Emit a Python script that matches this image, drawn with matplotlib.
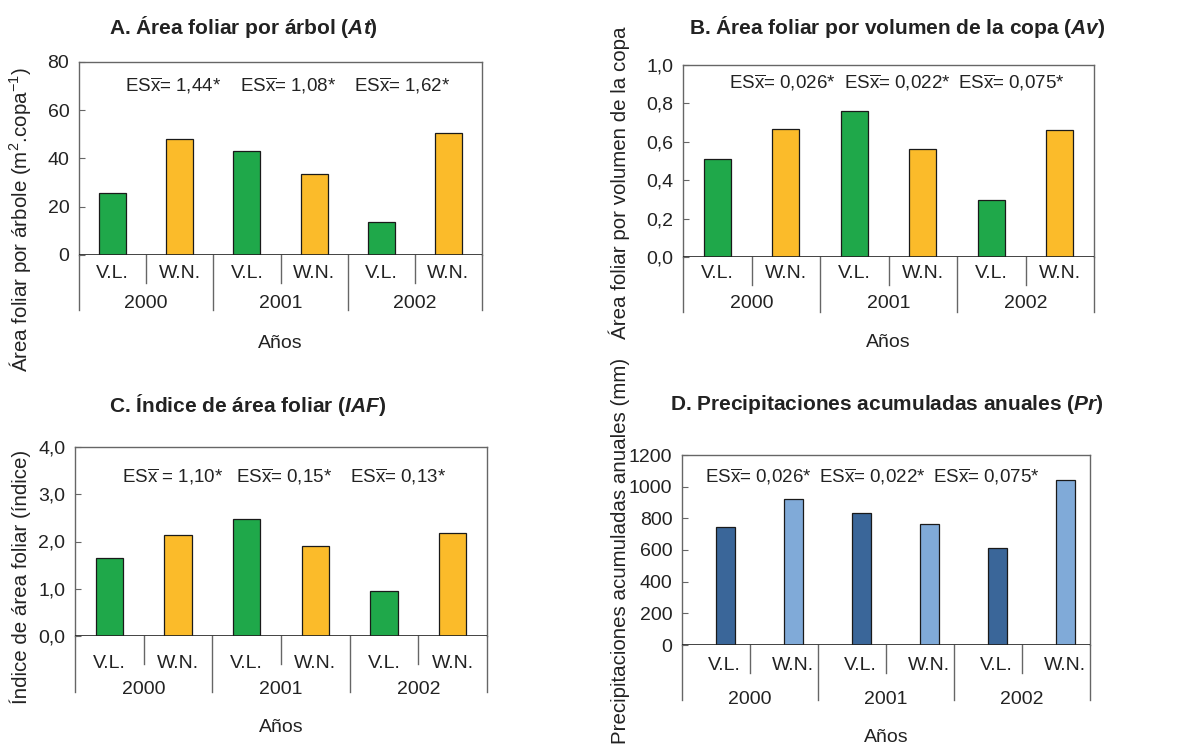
import matplotlib

matplotlib.use("Agg")
import matplotlib.pyplot as plt
from matplotlib.transforms import blended_transform_factory

plt.rcParams["font.family"] = ["Liberation Sans", "DejaVu Sans"]
plt.rcParams["mathtext.fontset"] = "custom"
plt.rcParams["mathtext.rm"] = "Liberation Sans"
plt.rcParams["mathtext.it"] = "Liberation Sans:italic"
plt.rcParams["mathtext.bf"] = "Liberation Sans:bold"
plt.rcParams["mathtext.bfit"] = "Liberation Sans:bold:italic"
plt.rcParams["mathtext.default"] = "regular"

W, H = 1181, 753

# data
years = ["2000", "2001", "2002"]
sites = ["V.L.", "W.N."]

at_vl = [25.6, 43.1, 13.5]
at_wn = [47.9, 33.5, 50.5]
av_vl = [0.508, 0.763, 0.299]
av_wn = [0.666, 0.565, 0.661]
iaf_vl = [1.65, 2.47, 0.95]
iaf_wn = [2.13, 1.91, 2.19]
pr_vl = [747, 836, 610]
pr_wn = [922, 764, 1044]

es_a = ["= 1,44*", "= 1,08*", "= 1,62*"]
es_b = ["= 0,026*", "= 0,022*", "= 0,075*"]
es_c = [" = 1,10*", "= 0,15*", "= 0,13*"]
es_d = ["= 0,026*", "= 0,022*", "= 0,075*"]

ticks_a = [0, 20, 40, 60, 80]
ticks_b = [0.0, 0.2, 0.4, 0.6, 0.8, 1.0]
ticks_c = [0.0, 1.0, 2.0, 3.0, 4.0]
ticks_d = [0, 200, 400, 600, 800, 1000, 1200]

GREEN, ORANGE = "#1fa84a", "#fbbb2a"
DBLUE, LBLUE = "#3a6699", "#80aad8"
GRAY = "#666666"
TXT = "#222222"

fig = plt.figure(figsize=(W / 100, H / 100), dpi=100)


def comma(v, nd):
    return f"{v:.{nd}f}".replace(".", ",")


def panel(box, vl, wn, ticks, nd, colors, es, es_x, es_y, title, title_xy,
          ylabel, ylabel_xy, below, width=0.4, shift=0.0, lab_shift=0.0,
          ylabel_va="center"):
    l, t, r, z = box
    ax = fig.add_axes([l / W, 1 - z / H, (r - l) / W, (z - t) / H])
    vals = [v for pair in zip(vl, wn) for v in pair]
    cols = [c for _ in vl for c in colors]
    xs = list(range(6))
    ax.bar([x + shift for x in xs], vals, width=width, color=cols,
           edgecolor="#1a1a1a", linewidth=0.9, zorder=3)
    ax.set_xlim(-0.5, 5.5)
    ax.set_ylim(ticks[0], ticks[-1])
    ax.set_yticks(ticks)
    ax.set_yticklabels([comma(v, nd) for v in ticks])
    ax.set_xticks([])
    ax.tick_params(axis="y", direction="in", length=4, color=GRAY,
                   labelsize=14, labelcolor=TXT, pad=7)
    for s in ["top", "left", "right"]:
        ax.spines[s].set_color(GRAY)
        ax.spines[s].set_linewidth(1.0)
    ax.spines["bottom"].set_visible(False)
    ax.axhline(0, color="#222222", lw=1.2, zorder=4)

    trans = blended_transform_factory(ax.transData, fig.transFigure)
    lab_y, short_bot, year_y, long_bot, anos_y = below
    for x in [0.5, 2.5, 4.5]:
        ax.plot([x, x], [1 - z / H, 1 - short_bot / H], color=GRAY, lw=1.0,
                transform=trans, clip_on=False)
    for x in [-0.5, 1.5, 3.5, 5.5]:
        ax.plot([x, x], [1 - z / H, 1 - long_bot / H], color=GRAY, lw=1.0,
                transform=trans, clip_on=False)
    for i, x in enumerate(xs):
        ax.text(x + lab_shift, 1 - lab_y / H, sites[i % 2], transform=trans,
                ha="center", va="center", fontsize=14, color=TXT)
    for j, yr in enumerate(years):
        ax.text(2 * j + 0.5, 1 - year_y / H, yr, transform=trans,
                ha="center", va="center", fontsize=14, color=TXT)
    for txt, x in zip(es, es_x):
        ax.text(x, 1 - es_y / H, r"ES$\overline{\mathrm{x}}$" + txt,
                transform=trans, ha="left", va="center", fontsize=13.5,
                color=TXT)
    fig.text(title_xy[0] / W, 1 - title_xy[1] / H, title, ha="center",
             va="center", fontsize=15, fontweight="bold", color=TXT)
    fig.text(ylabel_xy[0] / W, 1 - ylabel_xy[1] / H, ylabel, rotation=90,
             ha="center", va=ylabel_va, fontsize=14.8, color=TXT)
    fig.text((l + r) / 2 / W, 1 - anos_y / H, "Años", ha="center",
             va="center", fontsize=14, color=TXT)
    return ax


panel((79, 62, 482, 255), at_vl, at_wn, ticks_a, 0, (GREEN, ORANGE),
      es_a, [0.19, 1.89, 3.59], 86,
      r"A. Área foliar por árbol ($\mathbfit{At}$)", (243, 27),
      r"Área foliar por árbole (m$^{2}$.copa$^{-1}$)", (20, 220),
      (274, 283, 304, 310, 343))

panel((683, 65, 1094, 257), av_vl, av_wn, ticks_b, 1, (GREEN, ORANGE),
      es_b, [0.17, 1.85, 3.51], 83,
      r"B. Área foliar por volumen de la copa ($\mathbfit{Av}$)", (897, 27),
      "Área foliar por volumen de la copa", (619, 183),
      (274, 285, 304, 312, 342))

panel((75, 447, 487, 636), iaf_vl, iaf_wn, ticks_c, 1, (GREEN, ORANGE),
      es_c, [0.18, 1.84, 3.50], 477,
      r"C. Índice de área foliar ($\mathbfit{IAF}$)", (248, 405),
      "Índice de área foliar (índice)", (20, 577),
      (663, 664, 690, 692, 728))

panel((682, 455, 1090, 645), pr_vl, pr_wn, ticks_d, 0, (DBLUE, LBLUE),
      es_d, [-0.16, 1.51, 3.19], 477,
      r"D. Precipitaciones acumuladas anuales ($\mathbfit{Pr}$)", (887, 405),
      "Precipitaciones acumuladas anuales (mm)", (620, 358),
      (665, 673, 699, 700, 738), width=0.28, shift=0.14, lab_shift=0.13,
      ylabel_va="top")

fig.savefig("out.png", dpi=100)
